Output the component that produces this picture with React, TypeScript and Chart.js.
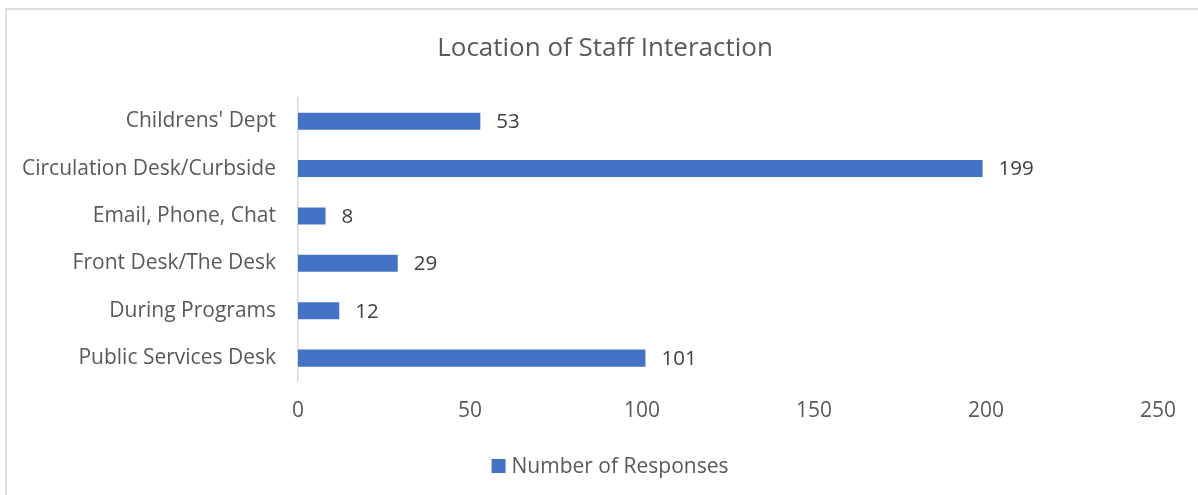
import React, { useEffect, useRef } from "react";
import { Chart, registerables } from "chart.js";

Chart.register(...registerables);

const categories = [
  "Childrens' Dept",
  "Circulation Desk/Curbside",
  "Email, Phone, Chat",
  "Front Desk/The Desk",
  "During Programs",
  "Public Services Desk",
];
const responses = [53, 199, 8, 29, 12, 101];
const seriesName = "Number of Responses";
const chartTitle = "Location of Staff Interaction";
const xMin = 0;
const xMax = 250;
const xStep = 50;

const FONT = "'Open Sans', Lato, sans-serif";
const BAR_COLOR = "#4472C4";

const dataLabels = {
  id: "dataLabels",
  afterDatasetsDraw(chart: any) {
    const ctx = chart.ctx;
    ctx.save();
    ctx.font = `20.5px ${FONT}`;
    ctx.fillStyle = "#404040";
    ctx.textAlign = "left";
    ctx.textBaseline = "middle";
    const meta = chart.getDatasetMeta(0);
    meta.data.forEach((el: any, i: number) => {
      ctx.fillText(String(chart.data.datasets[0].data[i]), el.x + 16, el.y + 1);
    });
    ctx.restore();
  },
};

// Title and legend drawn centred on the chart's frame rather than the canvas
const frameDecor = {
  id: "frameDecor",
  afterDraw(chart: any) {
    const ctx = chart.ctx;
    ctx.save();
    ctx.fillStyle = "#595959";
    ctx.textBaseline = "middle";
    ctx.textAlign = "center";
    ctx.font = `26px ${FONT}`;
    ctx.fillText(chartTitle, 605, 48.5);

    // legend
    ctx.font = `21px ${FONT}`;
    const label = chart.data.datasets[0].label;
    const tw = ctx.measureText(label).width;
    const box = 14;
    const gap = 6;
    const total = box + gap + tw;
    const x0 = 610 - total / 2;
    const cy = 466;
    ctx.fillStyle = chart.data.datasets[0].backgroundColor;
    ctx.fillRect(x0, cy - box / 2, box, box);
    ctx.fillStyle = "#595959";
    ctx.textAlign = "left";
    ctx.fillText(label, x0 + box + gap, cy + 1);
    ctx.restore();
  },
};

export default function App() {
  const ref = useRef<HTMLCanvasElement | null>(null);
  useEffect(() => {
    document.body.style.margin = "0";
    if (!ref.current) return;
    const chart = new Chart(ref.current, {
      type: "bar",
      data: {
        labels: categories,
        datasets: [
          {
            label: seriesName,
            data: responses,
            backgroundColor: BAR_COLOR,
            borderWidth: 0,
            categoryPercentage: 1,
            barPercentage: 0.36,
          },
        ],
      },
      options: {
        indexAxis: "y",
        responsive: false,
        animation: false,
        layout: { padding: { top: 97.5, left: 0, right: 40, bottom: 55 } },
        scales: {
          x: {
            min: xMin,
            max: xMax,
            grid: { display: false, drawTicks: false },
            border: { display: false },
            ticks: {
              stepSize: xStep,
              padding: 16.5,
              color: "#595959",
              font: { family: FONT, size: 21 },
            },
          },
          y: {
            grid: { display: false, drawTicks: false },
            border: { display: true, color: "#d9d9d9", width: 1.5 },
            afterFit: (scale: any) => {
              scale.width = 298;
            },
            ticks: {
              padding: 22,
              color: "#595959",
              font: { family: FONT, size: 21 },
            },
          },
        },
        plugins: {
          title: { display: false },
          legend: { display: false },
          tooltip: { enabled: false },
        },
      },
      plugins: [dataLabels, frameDecor],
    });
    return () => chart.destroy();
  }, []);
  return (
    <div style={{ position: "relative", width: 1198, height: 495, overflow: "hidden", background: "#fff" }}>
      <div
        style={{
          position: "absolute",
          left: 5,
          top: 8,
          width: 1300,
          height: 600,
          borderLeft: "2px solid #dedede",
          borderTop: "2px solid #dedede",
        }}
      />
      <canvas ref={ref} width={1198} height={495} style={{ position: "absolute", left: 0, top: 0 }} />
    </div>
  );
}
